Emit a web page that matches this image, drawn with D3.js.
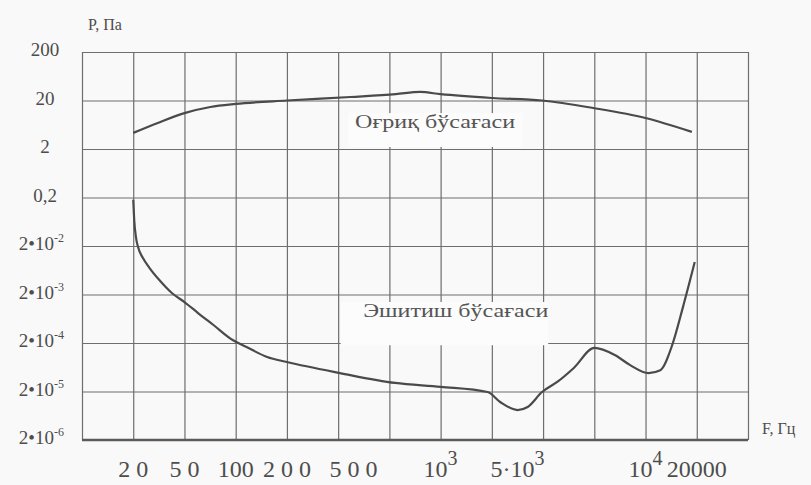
<!DOCTYPE html>
<html>
<head>
<meta charset="utf-8">
<script src="https://cdn.jsdelivr.net/npm/d3@7"></script>
<style>
    body { margin: 0; background: #f9f9f9; }
    text { font-family: "Liberation Serif", "Times New Roman", serif; fill: #4d4d4d; }
</style>
</head>
<body>
<script>
//begin script when window loads
(function(){

    // frequency ticks (Hz) and the grid column each one sits on
    var xTicks = [20, 50, 100, 200, 500, 1000, 5000, 10000, 20000];
    var xTickCols = [1, 2, 3, 4, 5.3, 7, 8.5, 11, 12];
    var xTickBase = ["2 0", "5 0", "100", "2 0 0", "5 0 0", "10", "5\u00b710", "10", "20000"];
    var xTickSup = ["", "", "", "", "", "3", "3", "4", ""];

    // pressure ticks (Pa), one per decade line
    var yTicks = [200, 20, 2, 0.2, 2e-2, 2e-3, 2e-4, 2e-5, 2e-6];
    var yTickBase = ["200", "20", "2", "0,2", "2\u202210", "2\u202210", "2\u202210", "2\u202210", "2\u202210"];
    var yTickSup = ["", "", "", "", "-2", "-3", "-4", "-5", "-6"];

    // pain threshold (upper curve)
    var painFreq = [20, 31, 50, 71, 100, 200, 480, 700, 850, 1000, 2965, 5710, 7535, 10000, 18720];
    var painP = [4.3, 6.9, 11, 14.7, 17, 20, 23.6, 27, 30, 27, 22.5, 20, 14, 8.7, 4.5];

    // hearing threshold (lower curve)
    var hearFreq = [20, 20.35, 21.05, 21.8, 23.8, 26.8, 31.9, 39.9, 50, 60.1, 74, 96, 115.8, 153, 200, 415, 696, 1000, 2671, 3505,
                    5000, 5284, 5710, 6247, 6783, 7576, 8466, 9203, 10402, 12215, 14337, 16592, 19470];
    var hearP = [0.18, 0.069, 0.0292, 0.019, 0.0113, 0.00703, 0.00398, 0.00215, 0.0014, 8.3e-4, 4.7e-4, 2.3e-4, 1.65e-4, 1.03e-4, 8.1e-5, 4.8e-5, 3.0e-5, 2.5e-5, 1.95e-5, 1.2e-5,
                 8.3e-6, 9.6e-6, 1.95e-5, 3.3e-5, 6.1e-5, 1.58e-4, 1.13e-4, 7.0e-5, 4.8e-5, 5.5e-5, 1.8e-4, 1.1e-3, 9.4e-3];

    window.onload = drawChart();

    function drawChart(){
        var width = 811,
            height = 485,
            left = 82,
            right = 748,
            top = 52,
            bottom = 440;

        var svg = d3.select("body")
            .append("svg")
            .attr("width", width)
            .attr("height", height);

        // grid columns are evenly spaced, frequencies are not
        var colScale = d3.scaleLinear()
            .domain([0, 13])
            .range([left, right]);

        var x = d3.scaleLog()
            .domain(xTicks)
            .range(xTickCols.map(colScale));

        var y = d3.scaleLog()
            .domain([2e-6, 200])
            .range([bottom, top]);

        setGrid(svg, colScale, y, left, right, top, bottom);
        setLabelBoxes(svg, colScale, y);
        setCurves(svg, x, y);
        setTickLabels(svg, x, y);

        svg.append("text")
            .attr("x", 88)
            .attr("y", 30)
            .style("font-size", "16px")
            .text("P, \u041f\u0430");

        svg.append("text")
            .attr("x", 762)
            .attr("y", 434)
            .style("font-size", "16px")
            .text("F, \u0413\u0446");
    };

    function setGrid(svg, colScale, y, left, right, top, bottom){
        var vGrid = svg.append("g")
            .attr("transform", "translate(0," + bottom + ")")
            .call(d3.axisBottom(colScale)
                .tickValues(d3.range(14))
                .tickSize(-(bottom - top))
                .tickFormat(""));

        var hGrid = svg.append("g")
            .attr("transform", "translate(" + left + ",0)")
            .call(d3.axisLeft(y)
                .tickValues(yTicks)
                .tickSize(-(right - left))
                .tickFormat(""));

        [vGrid, hGrid].forEach(function(g){
            g.select(".domain").remove();
            g.selectAll("line")
                .attr("stroke", "#6e6e6e")
                .attr("stroke-width", 1.2);
        });

        // heavier frequency axis line
        svg.append("line")
            .attr("x1", left)
            .attr("x2", right)
            .attr("y1", bottom)
            .attr("y2", bottom)
            .attr("stroke", "#5a5a5a")
            .attr("stroke-width", 2.6);
    };

    function setLabelBoxes(svg, colScale, y){
        var notes = [
            { text: "\u041e\u0493\u0440\u0438\u049b \u0431\u045e\u0441\u0430\u0493\u0430\u0441\u0438", col: 5.33, p: 5.4, len: 160, box: [5.2, 8.6, 11, 2.2] },
            { text: "\u042d\u0448\u0438\u0442\u0438\u0448 \u0431\u045e\u0441\u0430\u0493\u0430\u0441\u0438", col: 5.49, p: 6.9e-4, len: 185, box: [5.05, 9.1, 1.4e-3, 1.8e-4] }
        ];

        notes.forEach(function(n){
            svg.append("rect")
                .attr("x", colScale(n.box[0]))
                .attr("y", y(n.box[2]))
                .attr("width", colScale(n.box[1]) - colScale(n.box[0]))
                .attr("height", y(n.box[3]) - y(n.box[2]))
                .attr("fill", "#fcfcfc");

            svg.append("text")
                .attr("x", colScale(n.col))
                .attr("y", y(n.p))
                .attr("textLength", n.len)
                .attr("lengthAdjust", "spacingAndGlyphs")
                .style("font-size", "19px")
                .style("fill", "#555")
                .text(n.text);
        });
    };

    function setCurves(svg, x, y){
        var line = d3.line()
            .x(function(d){ return x(d[0]); })
            .y(function(d){ return y(d[1]); })
            .curve(d3.curveMonotoneX);

        [d3.zip(painFreq, painP), d3.zip(hearFreq, hearP)].forEach(function(series){
            svg.append("path")
                .datum(series)
                .attr("d", line)
                .attr("fill", "none")
                .attr("stroke", "#4a4a4a")
                .attr("stroke-width", 2.2);
        });
    };

    function setTickLabels(svg, x, y){
        // frequency labels under the axis
        var xLabels = svg.selectAll(".xLabel")
            .data(xTicks)
            .enter()
            .append("text")
            .attr("class", "xLabel")
            .attr("x", function(d){ return x(d); })
            .attr("y", 477)
            .attr("text-anchor", "middle")
            .style("font-size", "24px");

        xLabels.append("tspan")
            .text(function(d, i){ return xTickBase[i]; });

        xLabels.append("tspan")
            .attr("dy", -12)
            .style("font-size", "20px")
            .text(function(d, i){ return xTickSup[i]; });

        // pressure labels left of the grid
        var yLabels = svg.selectAll(".yLabel")
            .data(yTicks)
            .enter()
            .append("text")
            .attr("class", "yLabel")
            .attr("x", function(d, i){ return yTickSup[i] ? 64 : 45; })
            .attr("y", function(d){ return y(d) + 4; })
            .attr("text-anchor", function(d, i){ return yTickSup[i] ? "end" : "middle"; })
            .style("font-size", "19px");

        yLabels.append("tspan")
            .text(function(d, i){ return yTickBase[i]; });

        yLabels.append("tspan")
            .attr("dy", -8)
            .style("font-size", "12px")
            .text(function(d, i){ return yTickSup[i]; });
    };

})()
</script>
</body>
</html>
